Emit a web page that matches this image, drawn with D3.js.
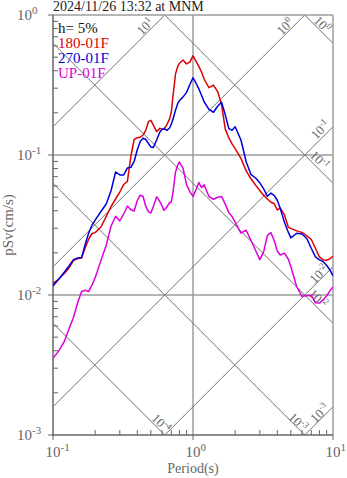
<!DOCTYPE html>
<html><head><meta charset="utf-8">
<script src="https://cdn.jsdelivr.net/npm/d3@7"></script>
<style>html,body{margin:0;padding:0;background:#fff}svg{display:block}</style>
</head><body>
<script>
// ---- data ----
const periods = [0.10,0.11,0.12,0.13,0.14,0.15,0.16,0.17,0.18,0.19,0.20,0.22,0.24,0.26,0.28,0.30,0.32,0.34,0.36,0.38,0.40,0.42,0.44,0.46,0.48,0.50,0.52,0.55,0.58,0.60,0.62,0.65,0.68,0.70,0.72,0.75,0.78,0.80,0.85,0.90,0.95,1.0,1.05,1.1,1.15,1.2,1.3,1.4,1.5,1.6,1.7,1.8,1.9,2.0,2.2,2.4,2.6,2.8,3.0,3.2,3.4,3.6,3.8,4.0,4.2,4.5,4.8,5.0,5.5,6.0,6.5,7.0,7.5,8.0,8.5,9.0,9.5,10];
const sv180 = [0.0121,0.0130,0.0142,0.0156,0.0176,0.0182,0.0184,0.0218,0.0251,0.0275,0.0279,0.0306,0.0364,0.0429,0.0485,0.0544,0.0616,0.0647,0.0984,0.129,0.133,0.134,0.139,0.150,0.173,0.177,0.164,0.147,0.155,0.153,0.153,0.164,0.181,0.203,0.264,0.379,0.432,0.452,0.477,0.447,0.462,0.510,0.469,0.429,0.392,0.349,0.303,0.316,0.284,0.229,0.153,0.133,0.120,0.111,0.0946,0.0769,0.0674,0.0609,0.0558,0.0514,0.0485,0.0460,0.0450,0.0405,0.0418,0.0373,0.0304,0.0299,0.0287,0.0280,0.0265,0.0249,0.0215,0.0187,0.0178,0.0177,0.0181,0.0190];
const sv270 = [0.0116,0.0130,0.0145,0.0161,0.0179,0.0184,0.0185,0.0231,0.0277,0.0316,0.0343,0.0395,0.0447,0.0558,0.0756,0.0720,0.0720,0.0808,0.0816,0.0899,0.109,0.125,0.132,0.129,0.121,0.114,0.113,0.128,0.146,0.152,0.155,0.150,0.156,0.166,0.181,0.209,0.235,0.245,0.260,0.280,0.319,0.356,0.327,0.297,0.267,0.240,0.212,0.202,0.223,0.238,0.194,0.155,0.150,0.159,0.128,0.0891,0.0723,0.0685,0.0633,0.0572,0.0507,0.0534,0.0514,0.0475,0.0414,0.0331,0.0280,0.0256,0.0276,0.0273,0.0253,0.0215,0.0187,0.0178,0.0173,0.0163,0.0151,0.0137];
const svUP = [0.00353,0.00399,0.00462,0.00572,0.00691,0.00880,0.0106,0.0108,0.0106,0.0118,0.0133,0.0176,0.0227,0.0311,0.0365,0.0338,0.0379,0.0432,0.0406,0.0398,0.0473,0.0517,0.0505,0.0429,0.0394,0.0385,0.0426,0.0504,0.0465,0.0435,0.0401,0.0425,0.0456,0.0462,0.0544,0.0756,0.0855,0.0891,0.0801,0.0611,0.0548,0.0506,0.0564,0.0637,0.0585,0.0613,0.0505,0.0483,0.0499,0.0505,0.0446,0.0389,0.0364,0.0332,0.0277,0.0290,0.0244,0.0208,0.0179,0.0204,0.0267,0.0279,0.0245,0.0206,0.0193,0.0199,0.0180,0.0159,0.0115,0.00979,0.00989,0.00995,0.00880,0.00875,0.00921,0.00984,0.0107,0.0114];
const seriesNames = ["180-01F","270-01F","UP-01F"];
const seriesColors = ["#dd0000","#0000dd","#dd00dd"];
const accelValues = [10,1,0.1,0.01,0.001];      // pSa lines (cm/s2)
const dispValues = [1,0.1,0.01,0.001,0.0001];   // Sd lines (cm)
const xTicks = [0.1,1,10];
const yTicks = [0.001,0.01,0.1,1];
const xGrid = [1];
const yGrid = [0.01,0.1];
const title = "2024/11/26 13:32 at MNM";
const damping = "h= 5%";
const xTitle = "Period(s)";
const yTitle = "pSv(cm/s)";

// ---- layout ----
const W=347,H=478,L=53,R=333,T=15,B=435;
const font = "'Liberation Serif','Times New Roman',serif";
const svg = d3.select("body").append("svg").attr("width",W).attr("height",H)
  .style("font-family",font);
svg.append("rect").attr("width",W).attr("height",H).attr("fill","#fff");
const x = d3.scaleLog().domain([0.1,10]).range([L,R]);
const y = d3.scaleLog().domain([0.001,1]).range([B,T]);
svg.append("defs").append("clipPath").attr("id","clip").append("rect")
  .attr("x",L).attr("y",T).attr("width",R-L).attr("height",B-T);

const gridCol="#9c9c9c", diagCol="#707070", axisCol="#666", labCol="#666";

// grid
xGrid.forEach(v=>svg.append("line").attr("x1",x(v)).attr("x2",x(v)).attr("y1",T).attr("y2",B)
  .attr("stroke",gridCol).attr("stroke-width",1.5));
yGrid.forEach(v=>svg.append("line").attr("x1",L).attr("x2",R).attr("y1",y(v)).attr("y2",y(v))
  .attr("stroke",gridCol).attr("stroke-width",1.5));

// tripartite lines
const tRange = d3.range(0,41).map(i=>Math.pow(10,-1+i*0.05));
const diag = svg.append("g").attr("clip-path","url(#clip)");
const ln = d3.line().x(d=>x(d[0])).y(d=>y(d[1]));
accelValues.forEach(a=>diag.append("path").attr("d",ln(tRange.map(t=>[t,a*t/(2*Math.PI)])))
  .attr("fill","none").attr("stroke",diagCol).attr("stroke-width",1));
dispValues.forEach(dv=>diag.append("path").attr("d",ln(tRange.map(t=>[t,2*Math.PI*dv/t])))
  .attr("fill","none").attr("stroke",diagCol).attr("stroke-width",1));

function expStr(v){const e=Math.round(Math.log10(v));return (e<0?"-":"")+Math.abs(e);}
function supText(sel,base,sup,supSize,dy){
  sel.append("tspan").text(base);
  sel.append("tspan").attr("font-size",supSize).attr("dy",dy).text(sup);
}
// labels on diagonal lines
const s2=Math.SQRT1_2;
const accelLab = {10:[22,6],1:[22,6],0.1:[11,7],0.01:[15,5],0.001:[14,5]};
const dispLab = {1:[21,6],0.1:[26,7],0.01:[28,7],0.001:[14,4.5],0.0001:[11,6]};
accelValues.forEach(a=>{
  const te=Math.min(10,2*Math.PI/a), ve=a*te/(2*Math.PI);
  const ex=x(te), ey=y(ve); const [al,pp]=accelLab[a];
  const cx=ex-al*s2-pp*s2, cy=ey+al*s2-pp*s2;
  const t=svg.append("text").attr("transform",`translate(${cx},${cy}) rotate(-45)`)
    .attr("text-anchor","middle").attr("dy","0.35em").attr("font-size",13).attr("fill",labCol);
  supText(t,"10",expStr(a),9,-5);
});
dispValues.forEach(dv=>{
  const te=Math.min(10,2*Math.PI*dv/0.001), ve=2*Math.PI*dv/te;
  const ex=x(te), ey=y(ve); const [al,pp]=dispLab[dv];
  const cx=ex-al*s2+pp*s2, cy=ey-al*s2-pp*s2;
  const t=svg.append("text").attr("transform",`translate(${cx},${cy}) rotate(45)`)
    .attr("text-anchor","middle").attr("dy","0.35em").attr("font-size",13).attr("fill",labCol);
  supText(t,"10",expStr(dv),9,-5);
});

// frame
svg.append("line").attr("x1",L).attr("x2",R).attr("y1",T).attr("y2",T).attr("stroke",gridCol).attr("stroke-width",1.5);
svg.append("line").attr("x1",R).attr("x2",R).attr("y1",T).attr("y2",B).attr("stroke",gridCol).attr("stroke-width",1.5);
svg.append("line").attr("x1",L).attr("x2",L).attr("y1",T).attr("y2",B+0.75).attr("stroke",axisCol).attr("stroke-width",1.5);
svg.append("line").attr("x1",L-0.75).attr("x2",R).attr("y1",B).attr("y2",B).attr("stroke",axisCol).attr("stroke-width",1.5);

// ticks
const yMinor=[], xMinor=[];
[0.001,0.01,0.1].forEach(d=>{for(let k=2;k<10;k++) yMinor.push(d*k);});
[0.1,1].forEach(d=>{for(let k=2;k<10;k++) xMinor.push(d*k);});
yMinor.forEach(v=>svg.append("line").attr("x1",L).attr("x2",L+5).attr("y1",y(v)).attr("y2",y(v)).attr("stroke",axisCol));
yTicks.forEach(v=>svg.append("line").attr("x1",L-5).attr("x2",L).attr("y1",y(v)).attr("y2",y(v)).attr("stroke",axisCol));
xMinor.forEach(v=>svg.append("line").attr("x1",x(v)).attr("x2",x(v)).attr("y1",B-5).attr("y2",B).attr("stroke",axisCol));
xTicks.forEach(v=>svg.append("line").attr("x1",x(v)).attr("x2",x(v)).attr("y1",B).attr("y2",B+5).attr("stroke",axisCol));

yTicks.forEach(v=>{
  const t=svg.append("text").attr("x",17).attr("y",y(v)+5).attr("font-size",15).attr("fill",labCol);
  supText(t,"10",expStr(v),11,-6);
});
xTicks.forEach(v=>{
  const t=svg.append("text").attr("x",x(v)-7.5).attr("y",457).attr("font-size",15).attr("fill",labCol);
  supText(t,"10",expStr(v),11,-6);
});

// series
const series=[sv180,sv270,svUP];
const cl = svg.append("g").attr("clip-path","url(#clip)");
const sl = d3.line().x((d,i)=>x(periods[i])).y(d=>y(d));
series.forEach((s,i)=>cl.append("path").attr("d",sl(s)).attr("fill","none")
  .attr("stroke",seriesColors[i]).attr("stroke-width",1.5).attr("stroke-linejoin","round"));

// legend
svg.append("text").attr("x",58).attr("y",33).attr("font-size",15).attr("fill","#111").text(damping);
seriesNames.forEach((n,i)=>svg.append("text").attr("x",58).attr("y",48+15*i).attr("font-size",15)
  .attr("fill",seriesColors[i]).text(n));

// titles
svg.append("text").attr("x",53).attr("y",11).attr("font-size",14).attr("fill","#222").text(title);
svg.append("text").attr("x",(L+R)/2).attr("y",473).attr("text-anchor","middle").attr("font-size",14).attr("fill",labCol).text(xTitle);
svg.append("text").attr("transform",`translate(13,${(T+B)/2}) rotate(-90)`).attr("text-anchor","middle")
  .attr("font-size",15).attr("fill",labCol).text(yTitle);
</script>
</body></html>
